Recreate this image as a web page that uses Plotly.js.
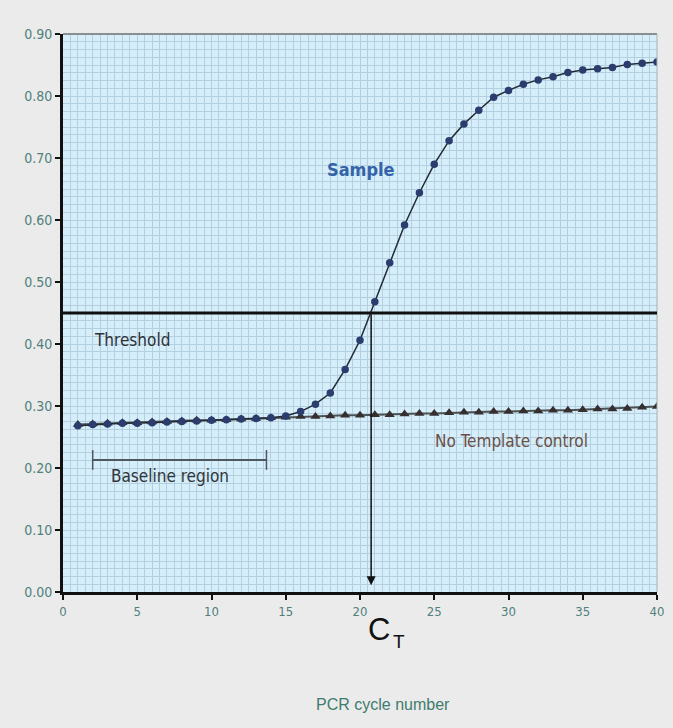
<!DOCTYPE html>
<html>
<head>
<meta charset="utf-8">
<script src="https://cdn.plot.ly/plotly-3.0.1.min.js"></script>
<style>
html,body{margin:0;padding:0;background:#ebebeb;}
#chart{width:673px;height:728px;}
</style>
</head>
<body>
<div id="chart"></div>
<script>
// PCR cycle numbers
const cycles = [1,2,3,4,5,6,7,8,9,10,11,12,13,14,15,16,17,18,19,20,21,22,23,24,25,26,27,28,29,30,31,32,33,34,35,36,37,38,39,40];
// Sample fluorescence
const sampleValues = [0.268,0.270,0.271,0.272,0.272,0.273,0.274,0.275,0.276,0.277,0.278,0.279,0.280,0.281,0.284,0.291,0.303,0.321,0.359,0.406,0.468,0.531,0.592,0.644,0.690,0.728,0.755,0.777,0.798,0.809,0.819,0.826,0.831,0.838,0.842,0.844,0.846,0.851,0.853,0.855];
// No Template control fluorescence
const ntcValues = [0.270,0.271,0.272,0.273,0.273,0.274,0.275,0.276,0.277,0.277,0.278,0.279,0.280,0.281,0.282,0.283,0.283,0.284,0.285,0.285,0.286,0.286,0.287,0.288,0.288,0.289,0.290,0.290,0.291,0.291,0.292,0.292,0.293,0.293,0.294,0.295,0.295,0.296,0.298,0.299];
// Threshold and Ct
const thresholdValue = 0.45;
const ctCycle = 20.75;
const baselineStart = 2;
const baselineEnd = 13.7;
const baselineLevel = 0.213;
// Tick labels
const yTickVals = [0,0.1,0.2,0.3,0.4,0.5,0.6,0.7,0.8,0.9];
const yTickText = ["0.00","0.10","0.20","0.30","0.40","0.50","0.60","0.70","0.80","0.90"];
const xTickVals = [0,5,10,15,20,25,30,35,40];

const narrow = "Liberation Sans Narrow, Arial Narrow, DejaVu Sans Condensed, sans-serif";
const gridCol = "#b3d0e0";

const traces = [
  {
    x: cycles, y: ntcValues, type: "scatter", mode: "lines+markers",
    line: {color: "#4b5152", width: 2},
    marker: {symbol: "triangle-up", size: 9, color: "#352f30"},
    hoverinfo: "skip", name: "No Template control"
  },
  {
    x: cycles, y: sampleValues, type: "scatter", mode: "lines+markers",
    line: {color: "#222a33", width: 1.5},
    marker: {symbol: "circle", size: 7.5, color: "#2b3d6e"},
    hoverinfo: "skip", name: "Sample"
  }
];

const layout = {
  width: 673, height: 728,
  margin: {l: 63, r: 16, t: 34, b: 136},
  paper_bgcolor: "#ebebeb",
  plot_bgcolor: "#d6eefa",
  showlegend: false,
  xaxis: {
    range: [0, 40], tickvals: xTickVals, ticktext: xTickVals.map(String),
    showline: true, linecolor: "#111", linewidth: 3,
    ticks: "outside", ticklen: 5, tickwidth: 2, tickcolor: "#111",
    tickfont: {family: narrow, size: 13, color: "#4f807c"},
    showgrid: true, gridcolor: gridCol, gridwidth: 1,
    minor: {dtick: 0.5, showgrid: true, gridcolor: gridCol, gridwidth: 1},
    zeroline: false, fixedrange: true
  },
  yaxis: {
    range: [0, 0.9], tickvals: yTickVals, ticktext: yTickText,
    showline: true, linecolor: "#111", linewidth: 3,
    ticks: "outside", ticklen: 5, tickwidth: 2, tickcolor: "#111",
    tickfont: {family: narrow, size: 14, color: "#4f807c"},
    showgrid: true, gridcolor: gridCol, gridwidth: 1,
    minor: {dtick: 0.0125, showgrid: true, gridcolor: gridCol, gridwidth: 1},
    zeroline: false, fixedrange: true
  },
  shapes: [
    {type: "line", xref: "paper", yref: "paper", x0: 0, x1: 1, y0: 1, y1: 1, line: {color: "#8a8f93", width: 2}},
    {type: "line", xref: "paper", yref: "paper", x0: 1, x1: 1, y0: 0, y1: 1, line: {color: "#a7b0b6", width: 1}},
    {type: "line", xref: "x", yref: "y", x0: 0, x1: 40, y0: thresholdValue, y1: thresholdValue, line: {color: "#111", width: 3}},
    {type: "line", xref: "x", yref: "y", x0: baselineStart, x1: baselineEnd, y0: baselineLevel, y1: baselineLevel, line: {color: "#4d5860", width: 2}},
    {type: "line", xref: "x", yref: "y", x0: baselineStart, x1: baselineStart, y0: baselineLevel - 0.016, y1: baselineLevel + 0.016, line: {color: "#4d5860", width: 1.5}},
    {type: "line", xref: "x", yref: "y", x0: baselineEnd, x1: baselineEnd, y0: baselineLevel - 0.016, y1: baselineLevel + 0.016, line: {color: "#4d5860", width: 1.5}}
  ],
  annotations: [
    {x: ctCycle, y: 0.011, ax: ctCycle, ay: thresholdValue, xref: "x", yref: "y", axref: "x", ayref: "y",
     text: "", showarrow: true, arrowhead: 2, arrowsize: 1.2, arrowwidth: 1.5, arrowcolor: "#111"},
    {x: 20.1, y: 0.681, xref: "x", yref: "y", yanchor: "middle", text: "<b>Sample</b>", showarrow: false,
     font: {family: narrow, size: 18, color: "#3563a8"}},
    {x: 4.65, y: 0.406, xref: "x", yref: "y", yanchor: "middle", text: "Threshold", showarrow: false,
     font: {family: narrow, size: 17, color: "#2e3236"}},
    {x: 30.2, y: 0.243, xref: "x", yref: "y", yanchor: "middle", text: "No Template control", showarrow: false,
     font: {family: narrow, size: 17, color: "#6c5047"}},
    {x: 7.2, y: 0.187, xref: "x", yref: "y", yanchor: "middle", text: "Baseline region", showarrow: false,
     font: {family: narrow, size: 17, color: "#30363b"}},
    {x: 21.3, y: -0.068, xref: "x", yref: "paper", xanchor: "center", yanchor: "middle", text: "C", showarrow: false,
     font: {family: "Liberation Sans, Arial, sans-serif", size: 31, color: "#111"}},
    {x: 22.6, y: -0.088, xref: "x", yref: "paper", xanchor: "center", yanchor: "middle", text: "T", showarrow: false,
     font: {family: "Liberation Sans, Arial, sans-serif", size: 19, color: "#111"}},
    {x: 0.539, y: -0.2025, xref: "paper", yref: "paper", xanchor: "center", yanchor: "middle", text: "PCR cycle number", showarrow: false,
     font: {family: "Liberation Sans, Arial, sans-serif", size: 16, color: "#3f7b6e"}}
  ]
};

Plotly.newPlot("chart", traces, layout, {staticPlot: true, displayModeBar: false});
</script>
</body>
</html>
